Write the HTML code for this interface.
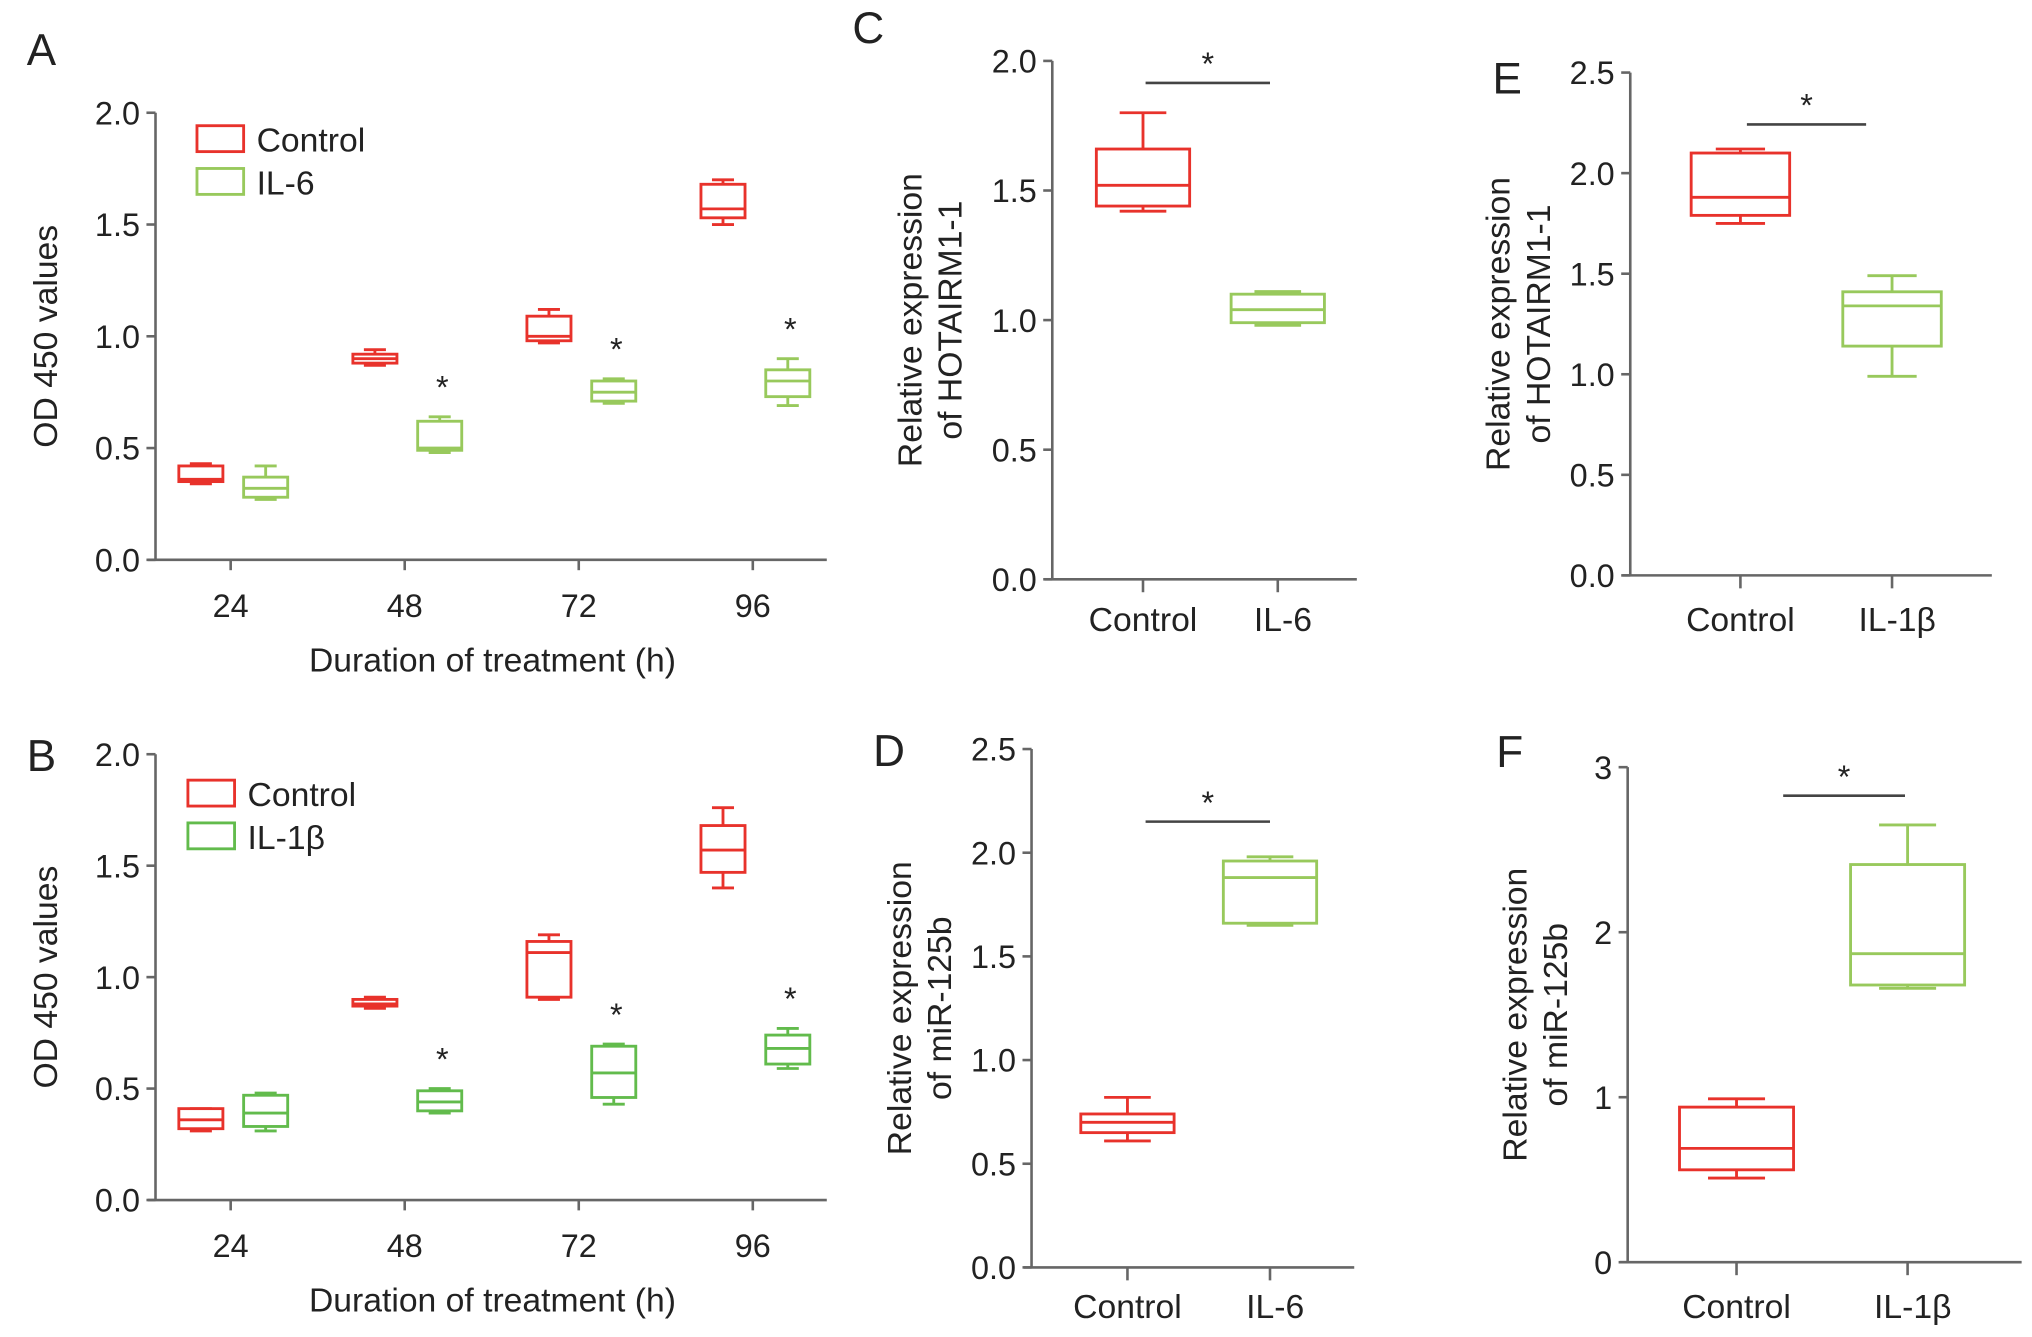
<!DOCTYPE html>
<html><head><meta charset="utf-8"><style>
html,body{margin:0;padding:0;background:#fff}
svg{display:block}
text{font-family:"Liberation Sans",sans-serif;fill:#222}
</style></head><body>
<svg id="fig" width="2032" height="1337" viewBox="0 0 1568 1031.7" preserveAspectRatio="none" xmlns="http://www.w3.org/2000/svg"></svg>
<script>
// ---- data (whisker-min, q1, median, q3, whisker-max) ----
const timeCats = ['24','48','72','96'];
const aControl = [[0.34,0.35,0.36,0.42,0.43],[0.87,0.88,0.90,0.92,0.94],[0.97,0.98,1.00,1.09,1.12],[1.50,1.53,1.57,1.68,1.70]];
const aIL6 = [[0.27,0.28,0.32,0.37,0.42],[0.48,0.49,0.50,0.62,0.64],[0.70,0.71,0.75,0.80,0.81],[0.69,0.73,0.80,0.85,0.90]];
const bControl = [[0.31,0.32,0.36,0.41,0.41],[0.86,0.87,0.88,0.90,0.91],[0.90,0.91,1.11,1.16,1.19],[1.40,1.47,1.57,1.68,1.76]];
const bIL1b = [[0.31,0.33,0.39,0.47,0.48],[0.39,0.40,0.44,0.49,0.50],[0.43,0.46,0.57,0.69,0.70],[0.59,0.61,0.68,0.74,0.77]];
const aStars = [false,true,true,true];
const bStars = [false,true,true,true];
const ticksAB = [0,0.5,1.0,1.5,2.0];
const tickLabelsAB = ['0.0','0.5','1.0','1.5','2.0'];
const cData = [[1.42,1.44,1.52,1.66,1.80],[0.98,0.99,1.04,1.10,1.11]];
const eData = [[1.75,1.79,1.88,2.10,2.12],[0.99,1.14,1.34,1.41,1.49]];
const dData = [[0.61,0.65,0.70,0.74,0.82],[1.65,1.66,1.88,1.96,1.98]];
const fData = [[0.51,0.56,0.69,0.94,0.99],[1.66,1.68,1.87,2.41,2.65]];
const ticksC = [0,0.5,1.0,1.5,2.0], labelsC = ['0.0','0.5','1.0','1.5','2.0'];
const ticksE = [0,0.5,1.0,1.5,2.0,2.5], labelsE = ['0.0','0.5','1.0','1.5','2.0','2.5'];
const ticksD = [0,0.5,1.0,1.5,2.0,2.5], labelsD = ['0.0','0.5','1.0','1.5','2.0','2.5'];
const ticksF = [0,1,2,3], labelsF = ['0','1','2','3'];

const svg = document.getElementById('fig');
const NS = 'http://www.w3.org/2000/svg';
const RED = '#e8322b', GREEN_A = '#98c95c', GREEN_B = '#62bb4c', AX = '#666';
const FT = 25, FL = 26;
function el(tag, attrs, parent){const e=document.createElementNS(NS,tag);for(const k in attrs)e.setAttribute(k,attrs[k]);(parent||svg).appendChild(e);return e;}
function txt(s, x, y, size, anchor, parent, rot){const t=el('text',{x:x,y:y,'font-size':size,'text-anchor':anchor||'middle'},parent);if(rot)t.setAttribute('transform',`rotate(-90 ${x} ${y})`);t.textContent=s;return t;}

function axes(g, ax){
  const ys=v=>ax.y0-(v/ax.max)*(ax.y0-ax.yTop);
  el('line',{x1:ax.x0,y1:ax.y0,x2:ax.x0,y2:ax.yTop,stroke:AX,'stroke-width':2},g);
  el('line',{x1:ax.x0-6,y1:ax.y0,x2:ax.x1,y2:ax.y0,stroke:AX,'stroke-width':2},g);
  ax.ticks.forEach((t,i)=>{
    const y=ys(t);
    const tk=el('line',{x1:ax.x0-7,y1:y,x2:ax.x0,y2:y,stroke:AX,'stroke-width':2},g);
    
    
    const l=txt(ax.labels[i],ax.x0-12,y+9,FT,'end',g);
    
    
  });
  return ys;
}
function box(g, cx, w, d, ys, color, name){
  const bg=el('g',{},g);
  
  
  const a={stroke:color,'stroke-width':2.2,fill:'none'};
  el('rect',Object.assign({x:cx-w/2,y:ys(d[3]),width:w,height:ys(d[1])-ys(d[3])},a),bg);
  el('line',Object.assign({x1:cx-w/2,x2:cx+w/2,y1:ys(d[2]),y2:ys(d[2])},a),bg);
  el('line',Object.assign({x1:cx,x2:cx,y1:ys(d[3]),y2:ys(d[4])},a),bg);
  el('line',Object.assign({x1:cx,x2:cx,y1:ys(d[1]),y2:ys(d[0])},a),bg);
  el('line',Object.assign({x1:cx-w/4,x2:cx+w/4,y1:ys(d[4]),y2:ys(d[4])},a),bg);
  el('line',Object.assign({x1:cx-w/4,x2:cx+w/4,y1:ys(d[0]),y2:ys(d[0])},a),bg);
}

function timePanel(name, letter, ly, y0, yTop, ctrl, trt, stars, green, trtLabel, legY){
  const g=el('g',{});
  
  
  txt(letter,32,ly,34,'middle',g);
  const ax={x0:120,x1:638,y0:y0,yTop:yTop,max:2,ticks:ticksAB,labels:tickLabelsAB};
  const ys=axes(g,ax);
  const xs=i=>178+i*134.3;
  timeCats.forEach((c,i)=>{
    el('line',{x1:xs(i),x2:xs(i),y1:y0,y2:y0+8,stroke:AX,'stroke-width':2},g);
    const l=txt(c,xs(i),y0+44,FT,'middle',g);
    
    
    box(g,xs(i)-23,34,ctrl[i],ys,RED,'box-control-'+c+'h');
    box(g,xs(i)+27,34,trt[i],ys,green,'box-treatment-'+c+'h');
    if(stars[i]){const s=txt('*',xs(i)+29,ys(trt[i][4])-14,25,'middle',g);}
  });
  const xt=txt('Duration of treatment (h)',380,y0+86,FL,'middle',g);
  
  const yt=txt('OD 450 values',44,(y0+yTop)/2,FL,'middle',g,true);
  
  const lg=el('g',{},g);
  
  
  el('rect',{x:legY[0],y:legY[1],width:36,height:20,fill:'none',stroke:RED,'stroke-width':2.2},lg);
  txt('Control',legY[0]+46,legY[1]+20,FL,'start',lg);
  el('rect',{x:legY[0],y:legY[1]+33,width:36,height:20,fill:'none',stroke:green,'stroke-width':2.2},lg);
  txt(trtLabel,legY[0]+46,legY[1]+53,FL,'start',lg);
}
timePanel('panel-a-chart','A',50,432,87,aControl,aIL6,aStars,GREEN_A,'IL-6',[152,97]);
timePanel('panel-b-chart','B',595,926,582,bControl,bIL1b,bStars,GREEN_B,'IL-1β',[145,602]);

function twoPanel(name, letter, lp, ax, cats, cx, w, data, ttl, titleX, sig, labY){
  const g=el('g',{});
  
  
  txt(letter,lp[0],lp[1],34,'middle',g);
  const ys=axes(g,ax);
  cats.forEach((c,i)=>{
    el('line',{x1:cx[i],x2:cx[i],y1:ax.y0,y2:ax.y0+10,stroke:AX,'stroke-width':2},g);
    const l=txt(c,cx[i]+(i?4:0),labY,FL,'middle',g);
    
    
    box(g,cx[i],w,data[i],ys,i?GREEN_A:RED,'box-'+c.toLowerCase());
  });
  const sl=el('line',{x1:sig[0],x2:sig[1],y1:sig[2],y2:sig[2],stroke:'#444','stroke-width':2},g);
  
  
  txt('*',(sig[0]+sig[1])/2,sig[2]-6,25,'middle',g);
  const yc=(ax.y0+ax.yTop)/2;
  txt('Relative expression',titleX,yc,FL,'middle',g,true);
  txt(ttl,titleX+31,yc,FL,'middle',g,true);
}
twoPanel('panel-c-chart','C',[670,33],{x0:812,x1:1047,y0:447,yTop:47,max:2,ticks:ticksC,labels:labelsC},['Control','IL-6'],[882,986],72,cData,'of HOTAIRM1-1',711,[884,980,64],487);
twoPanel('panel-e-chart','E',[1163,72],{x0:1258,x1:1537,y0:444,yTop:56,max:2.5,ticks:ticksE,labels:labelsE},['Control','IL-1β'],[1343,1460],76,eData,'of HOTAIRM1-1',1165,[1348,1440,96],487);
twoPanel('panel-d-chart','D',[686,591],{x0:796,x1:1045,y0:978,yTop:578,max:2.5,ticks:ticksD,labels:labelsD},['Control','IL-6'],[870,980],72,dData,'of miR-125b',703,[884,980,634],1017);
twoPanel('panel-f-chart','F',[1165,592],{x0:1256,x1:1560,y0:974,yTop:592,max:3,ticks:ticksF,labels:labelsF},['Control','IL-1β'],[1340,1472],88,fData,'of miR-125b',1178,[1376,1470,614],1017);
</script>
</body></html>
